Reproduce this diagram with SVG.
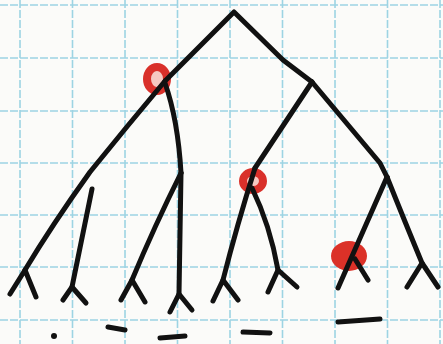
<svg xmlns="http://www.w3.org/2000/svg" width="443" height="344" viewBox="0 0 443 344">
<style>
.g{stroke:#9dd4e3;stroke-width:1.6;stroke-dasharray:8 2;fill:none}
.b{stroke:#111;stroke-width:5;fill:none;stroke-linecap:round;stroke-linejoin:round}
.ring{fill:#f6c9c2;stroke:#d9302a;stroke-width:8}
.r{fill:#db3128}
</style>
<rect width="443" height="344" fill="#fbfbf9"/>
<g id="grid">
<path class="g" d="M20 0V344M72.5 0V344M125 0V344M177.5 0V344M230 0V344M282.5 0V344M335 0V344M387.5 0V344M440 0V344"/>
<path class="g" d="M0 5H443M0 58H443M0 111H443M0 163H443M0 215H443M0 267H443M0 320H443"/>
</g>
<g id="red-marks">
<g id="mark1"><ellipse class="ring" cx="157" cy="79" rx="10" ry="12"/></g>
<g id="mark2"><ellipse class="ring" cx="253" cy="181" rx="10" ry="9"/></g>
<g id="mark3"><ellipse class="r" cx="349" cy="256" rx="18" ry="15"/></g>
</g>
<g id="connectors">
<path class="b" d="M165 81L234 12L283 60L312 82"/>
<path class="b" d="M165 81Q128 125 90 172Q52 225 25 270"/>
<path class="b" d="M165 83Q178 120 181 173"/>
<path class="b" d="M312 82L255 168"/>
<path class="b" d="M312 82L380 163L387 177"/>
<path class="b" d="M92 189L72 287"/>
<path class="b" d="M181 173Q155 225 132 280"/>
<path class="b" d="M181 173L179 294"/>
<path class="b" d="M255 168Q237 225 223 280"/>
<path class="b" d="M252 188Q270 225 278 270"/>
<path class="b" d="M387 177L338 288"/>
<path class="b" d="M387 177Q405 222 422 263"/>
</g>
<g id="leaves">
<path class="b" d="M10 294L25 270L36 297"/>
<path class="b" d="M63 300L72 287L86 303"/>
<path class="b" d="M121 300L132 280L145 302"/>
<path class="b" d="M170 312L179 294L192 310"/>
<path class="b" d="M213 301L223 280L238 300"/>
<path class="b" d="M268 292L278 270L297 287"/>
<path class="b" d="M355 259L368 280"/>
<path class="b" d="M407 287L422 263L438 287"/>
</g>
<g id="dashes">
<circle cx="54" cy="336" r="3" fill="#111"/>
<path class="b" d="M108 327L125 330"/>
<path class="b" d="M160 338L185 336"/>
<path class="b" d="M243 332L270 333"/>
<path class="b" d="M338 322L380 319"/>
</g>
</svg>
